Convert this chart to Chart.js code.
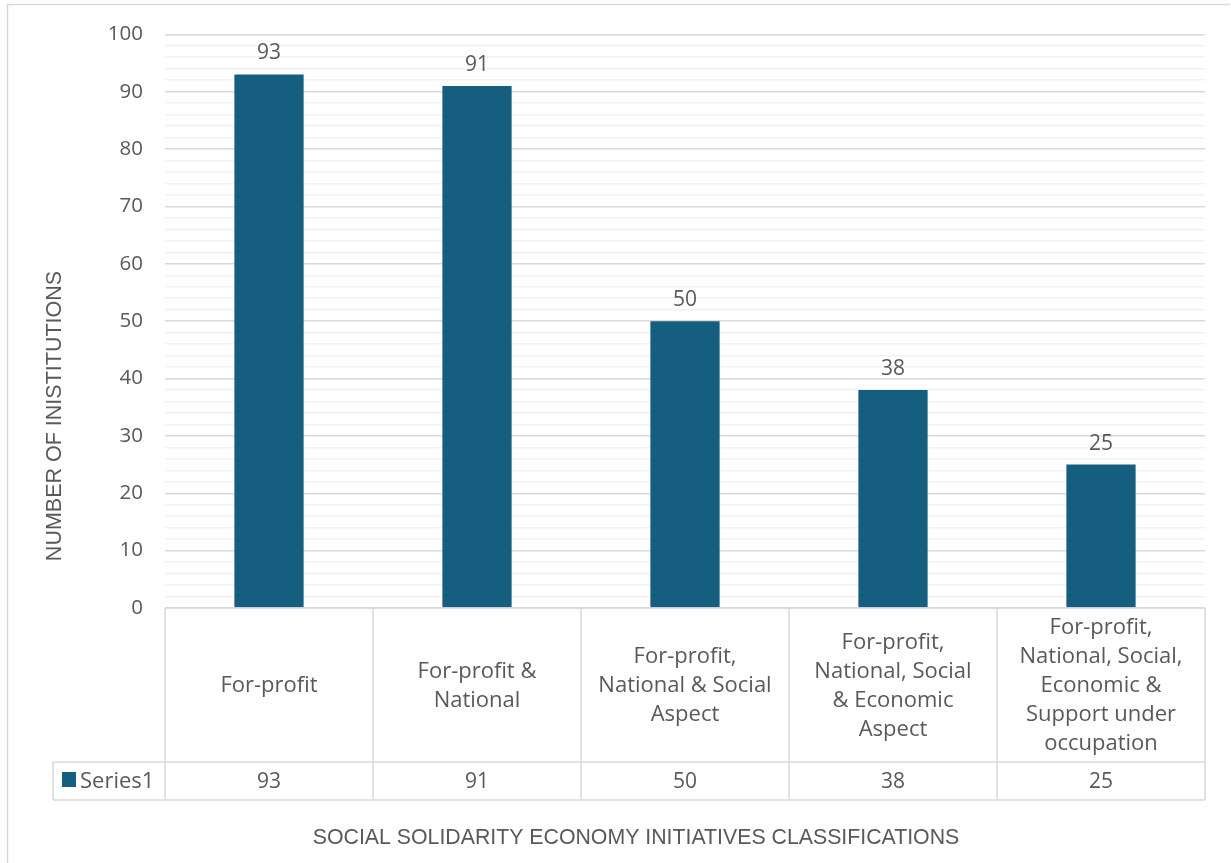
<!DOCTYPE html>
<html>
<head>
<meta charset="utf-8">
<script src="https://cdn.jsdelivr.net/npm/chart.js@4.4.1/dist/chart.umd.min.js"></script>
<style>
  html, body { margin: 0; padding: 0; background: #fff; }
  #wrap { width: 1231px; height: 863px; position: relative; }
</style>
</head>
<body>
<div id="wrap"><canvas id="grafica"></canvas></div>
<script>
// datos del gráfico
const categorias = [
    ["For-profit"],
    ["For-profit &", "National"],
    ["For-profit,", "National & Social", "Aspect"],
    ["For-profit,", "National, Social", "& Economic", "Aspect"],
    ["For-profit,", "National, Social,", "Economic &", "Support under", "occupation"]
];
const valores = [93, 91, 50, 38, 25];
const nombreSerie = "Series1";
const tituloY = "NUMBER OF INISTITUTIONS";
const tituloX = "SOCIAL SOLIDARITY ECONOMY INITIATIVES CLASSIFICATIONS";

const FUENTE = '"Open Sans", "Liberation Sans", sans-serif';
const FUENTE_TITULO = '"Liberation Sans", Arial, sans-serif';
const GRIS_TEXTO = "#595959";
const GRIS_LINEA = "#d9d9d9";
const AZUL = "#165e80";

// tabla de datos bajo el eje X (como en Excel) y títulos de ejes
const tablaDatos = {
    id: "tablaDatos",
    beforeDraw(chart) {
        const c = chart.ctx;
        c.save();
        c.fillStyle = "#fff";
        c.fillRect(0, 0, chart.width, chart.height);
        c.strokeStyle = GRIS_LINEA;
        c.lineWidth = 1.5;
        c.beginPath();
        c.moveTo(7.5, chart.height);
        c.lineTo(7.5, 4.5);
        c.lineTo(1230, 4.5);
        c.stroke();
        c.restore();
    },
    afterDraw(chart) {
        const c = chart.ctx;
        const xs = chart.scales.x;
        const area = chart.chartArea;
        const n = categorias.length;
        const ancho = (area.right - area.left) / n;
        const yCat = area.bottom;
        const ySerie = area.bottom + 154;
        const yFin = ySerie + 38;
        const xLeyenda = 53;

        c.save();
        // etiquetas de valor sobre las barras
        c.fillStyle = GRIS_TEXTO;
        c.font = "21px " + FUENTE;
        c.textAlign = "center";
        c.textBaseline = "alphabetic";
        chart.getDatasetMeta(0).data.forEach((bar, i) => {
            c.fillText(String(valores[i]), bar.x, bar.y - 15);
        });

        // líneas de la tabla
        c.strokeStyle = GRIS_LINEA;
        c.lineWidth = 1.5;
        c.beginPath();
        c.moveTo(area.left, yCat); c.lineTo(area.right, yCat);
        c.moveTo(xLeyenda, ySerie); c.lineTo(area.right, ySerie);
        c.moveTo(xLeyenda, yFin); c.lineTo(area.right, yFin);
        for (let i = 0; i <= n; i++) {
            const x = area.left + i * ancho;
            c.moveTo(x, yCat); c.lineTo(x, yFin);
        }
        c.moveTo(xLeyenda, ySerie); c.lineTo(xLeyenda, yFin);
        c.stroke();

        // categorías y valores
        c.fillStyle = GRIS_TEXTO;
        c.textBaseline = "middle";
        const centroCat = (yCat + ySerie) / 2;
        const alto = 29;
        categorias.forEach((lineas, i) => {
            const x = xs.getPixelForValue(i);
            const y0 = centroCat - (lineas.length - 1) * alto / 2;
            c.font = "22px " + FUENTE;
            lineas.forEach((t, j) => c.fillText(t, x, y0 + j * alto + 1));
            c.font = "21px " + FUENTE;
            c.fillText(String(valores[i]), x, (ySerie + yFin) / 2 + 1);
        });

        // leyenda de la serie
        c.fillStyle = AZUL;
        c.fillRect(62, ySerie + 10, 14, 15);
        c.fillStyle = GRIS_TEXTO;
        c.textAlign = "left";
        c.font = "22px " + FUENTE;
        c.fillText(nombreSerie, 80, (ySerie + yFin) / 2 + 1);

        // título del eje X
        c.textAlign = "center";
        c.font = "21.3px " + FUENTE_TITULO;
        c.fillText(tituloX, 636, 838);

        // título del eje Y (centrado en todo el alto del gráfico, como Excel)
        c.translate(55, 416);
        c.rotate(-Math.PI / 2);
        c.font = "21.5px " + FUENTE_TITULO;
        c.fillText(tituloY, 0, 0);
        c.restore();
    }
};

const ctx = document.getElementById("grafica").getContext("2d");
const chart = new Chart(ctx, {
    type: "bar",
    data: {
        labels: categorias,
        datasets: [{
            label: nombreSerie,
            data: valores,
            backgroundColor: AZUL,
            borderWidth: 0,
            barPercentage: 1,
            categoryPercentage: 0.333
        }]
    },
    options: {
        responsive: true,
        maintainAspectRatio: false,
        animation: false,
        layout: { padding: { top: 33, right: 26, bottom: 255, left: 0 } },
        plugins: { legend: { display: false }, tooltip: { enabled: false } },
        scales: {
            x: {
                ticks: { display: false },
                grid: { display: false },
                border: { display: false },
                afterFit: s => { s.height = 0; }
            },
            y: {
                min: 0, max: 100,
                afterFit: s => { s.width = 165; },
                ticks: {
                    stepSize: 2,
                    autoSkip: false,
                    padding: 22,
                    color: GRIS_TEXTO,
                    font: { family: FUENTE, size: 20.5 },
                    callback: v => (v % 10 === 0 ? v : "")
                },
                grid: {
                    drawTicks: false,
                    lineWidth: 1.5,
                    color: c => (c.tick.value % 10 === 0 ? GRIS_LINEA : "#f2f2f2")
                },
                border: { display: false }
            }
        }
    },
    plugins: [tablaDatos]
});
</script>
</body>
</html>
